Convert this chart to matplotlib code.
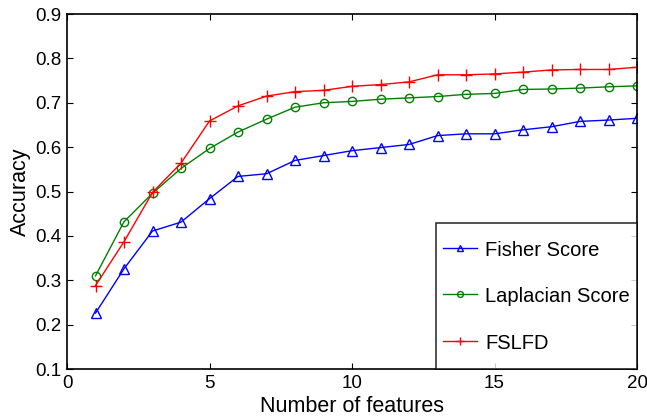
import numpy as np
import matplotlib
matplotlib.use("Agg")
import matplotlib.pyplot as plt

plt.rcParams['font.family'] = ['Liberation Sans', 'DejaVu Sans']

# number of selected features
n_features = np.arange(1, 21)

fisher = [0.226, 0.326, 0.411, 0.431, 0.484, 0.534, 0.540, 0.570, 0.581, 0.592,
          0.599, 0.606, 0.626, 0.630, 0.630, 0.639, 0.646, 0.658, 0.661, 0.665]
laplacian = [0.310, 0.432, 0.496, 0.552, 0.597, 0.634, 0.663, 0.690, 0.700, 0.703,
             0.708, 0.711, 0.714, 0.719, 0.721, 0.730, 0.731, 0.733, 0.736, 0.738]
fslfd = [0.288, 0.387, 0.498, 0.564, 0.659, 0.693, 0.715, 0.725, 0.728, 0.737,
         0.741, 0.747, 0.763, 0.763, 0.765, 0.769, 0.774, 0.775, 0.775, 0.780]

fig = plt.figure(figsize=(6.47, 4.18), dpi=100)
ax = fig.add_axes([0.1036, 0.1172, 0.881, 0.8493])

ax.plot(n_features, fisher, color='blue', marker='^', markersize=7, mfc='none',
        lw=1, label='Fisher Score')
ax.plot(n_features, laplacian, color='#008000', marker='o', markersize=6, mfc='none',
        lw=1, label='Laplacian Score')
ax.plot(n_features, fslfd, color='red', marker='+', markersize=8,
        lw=1, label='FSLFD')

ax.set_xlim(0, 20)
ax.set_ylim(0.1, 0.9)
ax.set_xticks([0, 5, 10, 15, 20])
ax.set_yticks(np.arange(0.1, 0.91, 0.1))
ax.set_yticklabels(['0.1', '0.2', '0.3', '0.4', '0.5', '0.6', '0.7', '0.8', '0.9'])
ax.tick_params(direction='in', length=4, top=True, right=True, labelsize=13.5,
               width=0.8, pad=4)
for s in ax.spines.values():
    s.set_linewidth(1.2)

ax.set_xlabel('Number of features', fontsize=15.5, labelpad=3.5)
ax.set_ylabel('Accuracy', fontsize=15.5, labelpad=3)

# tall handle boxes give the roomy rows of the original legend
leg = ax.legend(loc='lower right', borderaxespad=0, fontsize=14.5, fancybox=False,
                edgecolor='black', handlelength=1.7, handleheight=2.6,
                labelspacing=0.37, markerscale=0.7, borderpad=0.35,
                handletextpad=0.4)
leg.get_frame().set_linewidth(1.2)
# move the handle lines down so they sit level with the labels
for h in leg.legend_handles:
    h.set_ydata(np.asarray(h.get_ydata()) - 3.6)

fig.savefig('out.png', dpi=100)
